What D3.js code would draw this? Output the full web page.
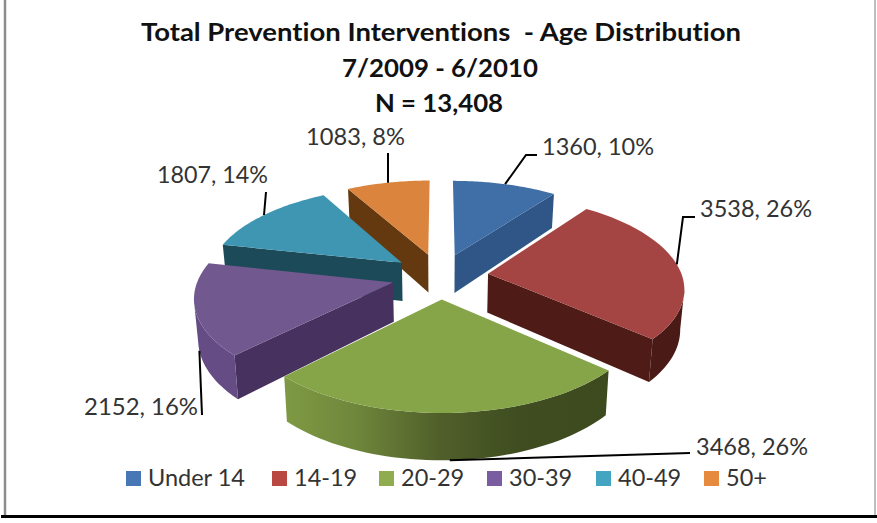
<!DOCTYPE html>
<html>
<head>
<meta charset="utf-8">
<script src="https://cdn.jsdelivr.net/npm/d3@7/dist/d3.min.js"></script>
<style>
  html, body { margin: 0; padding: 0; background: #fff; }
  svg { display: block; }
  text { font-family: Lato, "Open Sans", sans-serif; font-variant-ligatures: none; }
</style>
</head>
<body>
<script>
// Chart content
const titleLines = ["Total Prevention Interventions  - Age Distribution", "7/2009 - 6/2010", "N = 13,408"];
const categories = ["Under 14", "14-19", "20-29", "30-39", "40-49", "50+"];
const counts = [1360, 3538, 3468, 2152, 1807, 1083];
const percents = [10, 26, 26, 16, 14, 8];

// Palette
const topColors = ["#3f6fa6", "#a54543", "#86a549", "#71588f", "#3f96b2", "#db843d"];
const cutColors = ["#2f5686", "#4e1b17", "#3f4d20", "#47325f", "#1c4a59", "#64390f"];
const rimColors = ["#2f5686", "#4a1a16", "url(#greenRim)", "#664c85", "#1f5366", "#64390f"];
const legendColors = ["#4778b5", "#b94742", "#8fad4f", "#7a5ca0", "#43a5c2", "#e58a3f"];

// Painter's order for the slices, farthest first
const drawOrder = [0, 5, 4, 1, 3, 2];

const width = 877, height = 523;
const svg = d3.select("body").append("svg").attr("width", width).attr("height", height);

// Frame
const frame = svg.append("g");
frame.append("line").attr("x1", 5).attr("x2", 5).attr("y1", 0).attr("y2", 516)
  .attr("stroke", "#8c8c8c").attr("stroke-width", 2.5);
frame.append("line").attr("x1", 875).attr("x2", 875).attr("y1", 0).attr("y2", 516)
  .attr("stroke", "#a8a8a8").attr("stroke-width", 1.5);
frame.append("line").attr("x1", 1).attr("x2", width).attr("y1", 516.5).attr("y2", 516.5)
  .attr("stroke", "#000").attr("stroke-width", 3);

// Horizontal shading along the front rim of the largest slice
const defs = svg.append("defs");
const grad = defs.append("linearGradient").attr("id", "greenRim")
  .attr("gradientUnits", "userSpaceOnUse").attr("x1", 282).attr("x2", 611).attr("y1", 0).attr("y2", 0);
[[0, "#7f9a44"], [0.22, "#6f873b"], [0.48, "#505f2a"], [0.72, "#3f4d20"], [1, "#3c4a1e"]].forEach(([o, c]) =>
  grad.append("stop").attr("offset", o).attr("stop-color", c));

// Perspective projection of the pie's ground plane onto the screen
const view = { cx: 440, cy: 276, sx: 194, sy: 90.3, k: 0.141, depth: 39, squeeze: 0.983, explode: 0.25 };
const project = (u, v, lift = 0) => {
  const d = 1 - view.k * v;
  const x = view.sx * u / d, y = view.sy * v / d;
  return lift
    ? [view.cx + x * view.squeeze, view.cy + y + view.depth / d]
    : [view.cx + x, view.cy + y];
};

const pie = d3.pie().sort(null).startAngle(0).endAngle(2 * Math.PI);
const arcs = pie(counts);

// Ground-plane point on a slice: its radius is 1, pushed out along the bisector
const slicePoint = (a, angle, r) => {
  const mid = (a.startAngle + a.endAngle) / 2;
  return [
    view.explode * Math.sin(mid) + r * Math.sin(angle),
    -view.explode * Math.cos(mid) - r * Math.cos(angle)
  ];
};
const rimPoints = a => {
  const steps = 48;
  return d3.range(steps + 1).map(i =>
    slicePoint(a, a.startAngle + (a.endAngle - a.startAngle) * i / steps, 1));
};

const polyLine = d3.line();
const pieLayer = svg.append("g");

// A wall hangs below a run of top-face points
const wall = (g, run, fill) => {
  const upper = run.map(p => project(p[0], p[1]));
  const lower = run.map(p => project(p[0], p[1], 1)).reverse();
  g.append("path").attr("d", polyLine([...upper, ...lower]) + "Z").attr("fill", fill);
};

drawOrder.forEach(i => {
  const a = arcs[i];
  const rim = rimPoints(a);
  const apex = slicePoint(a, 0, 0);
  const g = pieLayer.append("g");
  const sx = p => project(p[0], p[1])[0];

  // Only walls whose top edge runs leftward on screen face the viewer
  if (sx(rim[0]) < sx(apex) - 4) wall(g, [apex, rim[0]], cutColors[i]);
  if (sx(apex) < sx(rim[rim.length - 1]) - 4) wall(g, [rim[rim.length - 1], apex], cutColors[i]);
  const facing = rim.filter((p, j) => j + 1 < rim.length ? sx(rim[j + 1]) < sx(p) : sx(p) < sx(rim[j - 1]));
  if (facing.length > 1) wall(g, facing, rimColors[i]);

  g.append("path")
    .attr("d", polyLine([apex, ...rim].map(p => project(p[0], p[1]))) + "Z")
    .attr("fill", topColors[i]);
});

// Title, stretched to the measured line widths
const titleLayout = [
  { y: 41, left: 141, span: 600 },
  { y: 77, left: 342, span: 196 },
  { y: 112, left: 375, span: 128 }
];
svg.append("g").selectAll("text").data(titleLines).join("text")
  .attr("x", (d, i) => titleLayout[i].left)
  .attr("y", (d, i) => titleLayout[i].y)
  .attr("textLength", (d, i) => titleLayout[i].span)
  .attr("lengthAdjust", "spacingAndGlyphs")
  .attr("font-size", 25)
  .attr("font-weight", 700)
  .attr("fill", "#111")
  .style("white-space", "pre")
  .text(d => d);

// Data labels and their leader lines
const labelPlacement = [
  { x: 542, y: 155, span: 112, lift: 0, via: [[526, 155], [537, 155]] },
  { x: 700, y: 217, span: 112, lift: 0, via: [[683, 217], [695, 217]] },
  { x: 696, y: 455, span: 112, lift: 1, via: [[690, 453]] },
  { x: 84,  y: 415, span: 114, lift: 1, via: [[202, 415]] },
  { x: 157, y: 183, span: 111, lift: 0, via: [[266, 192]] },
  { x: 306, y: 145, span: 99,  lift: 0, via: [[388, 153]] }
];
const leaders = svg.append("g");
arcs.forEach((a, i) => {
  const place = labelPlacement[i];
  const mid = (a.startAngle + a.endAngle) / 2;
  const p = slicePoint(a, mid, 1);
  const anchor = project(p[0], p[1], place.lift);
  leaders.append("path")
    .attr("d", polyLine([anchor, ...place.via]))
    .attr("fill", "none").attr("stroke", "#000").attr("stroke-width", 2);
  leaders.append("text")
    .attr("x", place.x).attr("y", place.y)
    .attr("textLength", place.span).attr("lengthAdjust", "spacingAndGlyphs")
    .attr("font-size", 23).attr("fill", "#333")
    .text(`${counts[i]}, ${percents[i]}%`);
});

// Legend
const legendX = d3.scaleOrdinal().domain(categories).range([126, 272, 379, 487, 596, 704]);
const legend = svg.append("g").selectAll("g").data(categories).join("g")
  .attr("transform", d => `translate(${legendX(d)},471)`);
legend.append("rect").attr("width", 15).attr("height", 15)
  .attr("fill", (d, i) => legendColors[i]);
legend.append("text").attr("x", 22).attr("y", 15)
  .attr("font-size", 23.5).attr("fill", "#333").text(d => d);
</script>
</body>
</html>
